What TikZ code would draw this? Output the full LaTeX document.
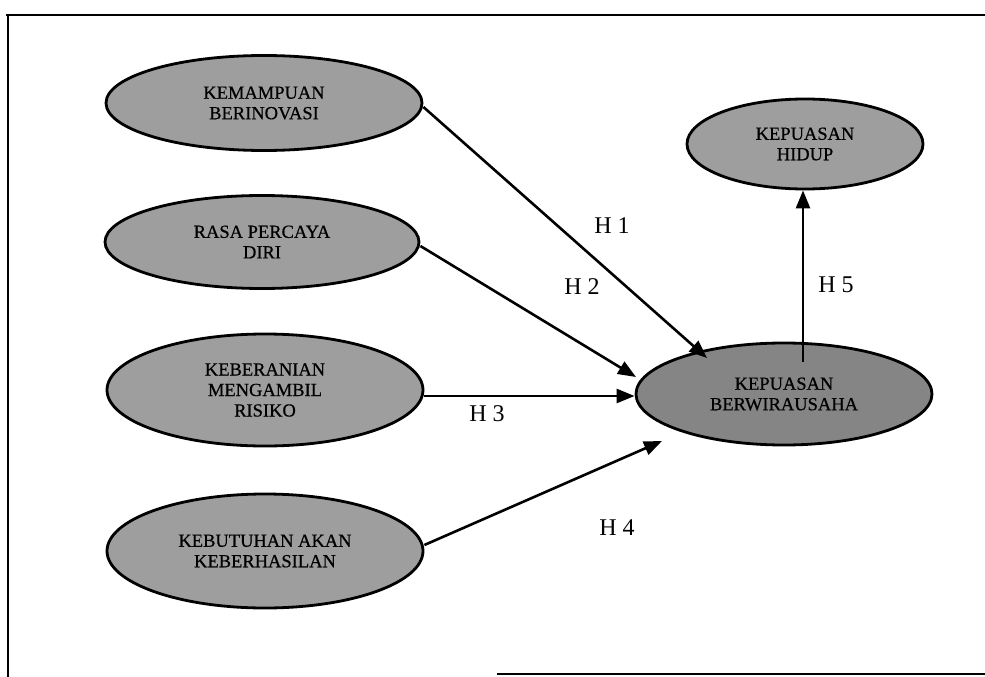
\documentclass[tikz,border=0pt]{standalone}
\usepackage{fontspec}
\setmainfont{Liberation Serif}
\newfontfamily\scanfont[FakeBold=0.6]{Liberation Serif}
\usetikzlibrary{shapes.geometric,arrows.meta}
\begin{document}
\begin{tikzpicture}[x=1pt,y=-1pt,
  var/.style={ellipse,draw=black,line width=2.8pt,fill=black!38,inner sep=0pt,
    align=center,font=\scanfont\fontsize{18.5}{20.5}\selectfont,text=black},
  hyp/.style={line width=2.6pt,-{Triangle[length=18pt,width=14pt]}},
  hlab/.style={font=\fontsize{24}{26}\selectfont,inner sep=0pt}]
\useasboundingbox (0,0) rectangle (985,677);
% frame
\draw[line width=2.2pt] (6,15) -- (985,15);
\draw[line width=1.6pt] (8,15) -- (8,677);
\draw[line width=2.2pt] (497,674) -- (985,674);
% nodes
\node[var,minimum width=316pt,minimum height=95pt] (e1) at (264,103) {KEMAMPUAN\\BERINOVASI};
\node[var,minimum width=314pt,minimum height=93pt] (e2) at (262,242) {RASA PERCAYA\\DIRI};
\node[var,minimum width=316pt,minimum height=112pt] (e3) at (265,390) {KEBERANIAN\\MENGAMBIL\\RISIKO};
\node[var,minimum width=316pt,minimum height=114pt] (e4) at (265,551) {KEBUTUHAN AKAN\\KEBERHASILAN};
\node[var,fill=black!48,minimum width=296pt,minimum height=102pt] (e5) at (784,394) {KEPUASAN\\BERWIRAUSAHA};
\node[var,minimum width=236pt,minimum height=90pt] (e6) at (805,144) {KEPUASAN\\HIDUP};
% connectors
\draw[hyp] (e1.east) ++(0,4) coordinate (s1) -- (707,358) coordinate (t1);
\draw[hyp] (e2.east) ++(0,4) coordinate (s2) -- (636,377) coordinate (t2);
\draw[hyp] (e3.east) ++(0,6) coordinate (s3) -- (e5.west |- 0,396) coordinate (t3);
\draw[hyp] (e4.east) ++(0,-6) coordinate (s4) -- (662,441) coordinate (t4);
\coordinate (s5) at (803,362);
\draw[hyp] (s5) -- (e6.south -| s5);
% labels
\node[hlab] (h1) at (612,226) {H 1};
\node[hlab] (h2) at (582,287) {H 2};
\node[hlab] (h3) at (487,414) {H 3};
\node[hlab] (h4) at (617,528) {H 4};
\node[hlab] (h5) at (836,285) {H 5};
\end{tikzpicture}
\end{document}
